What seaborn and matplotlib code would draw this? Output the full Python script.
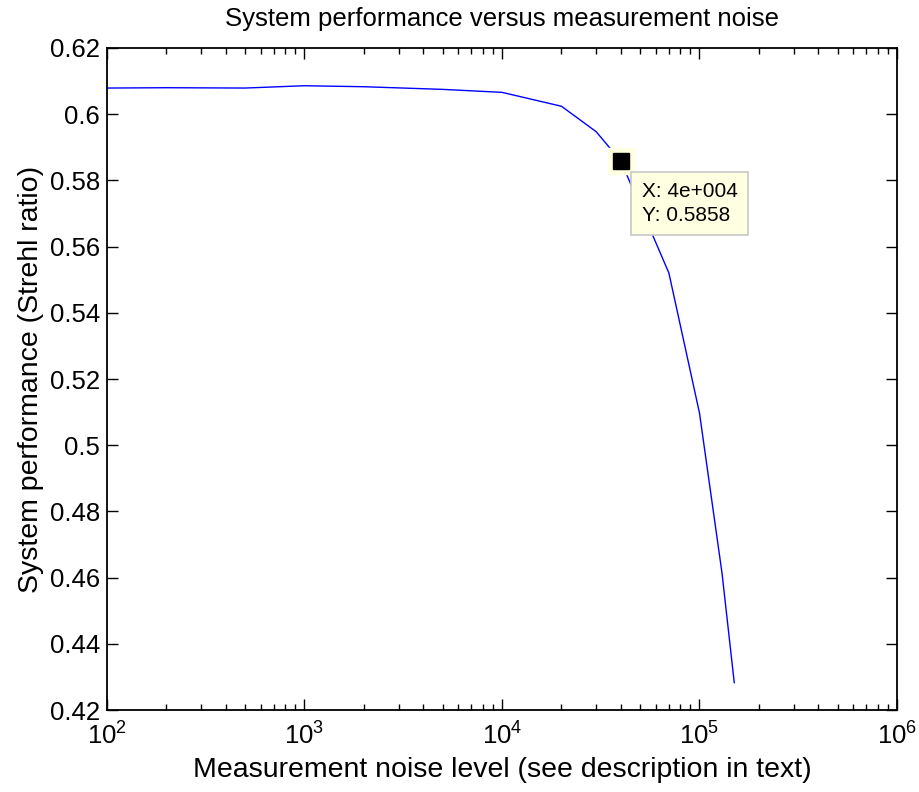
import numpy as np
import pandas as pd
import matplotlib
matplotlib.use("Agg")
import matplotlib.pyplot as plt
import seaborn as sns

noise = [1e2, 2e2, 5e2, 1e3, 2e3, 5e3, 1e4, 2e4, 3e4, 4e4, 7e4, 1e5, 1.3e5, 1.5e5]
strehl = [0.6079, 0.6080, 0.6079, 0.6086, 0.6083, 0.6075, 0.6066, 0.6024, 0.5947,
          0.5858, 0.5520, 0.5097, 0.4614, 0.4282]

cursor_x = 4e4
cursor_y = 0.5858

df = pd.DataFrame({'noise': noise, 'strehl': strehl})

sns.set_style("ticks")
plt.rcParams['font.family'] = ['Liberation Sans', 'DejaVu Sans']
plt.rcParams['text.color'] = 'black'
plt.rcParams['axes.labelcolor'] = 'black'

fig = plt.figure(figsize=(9.2, 7.92), dpi=100)
ax = fig.add_axes([0.1163, 0.1035, 0.8587, 0.8359])

sns.lineplot(data=df, x='noise', y='strehl', color='#0000ff', linewidth=1.0, ax=ax)
ax.set_xscale('log')
ax.set_xlim(1e2, 1e6)
ax.set_ylim(0.42, 0.62)
ax.set_yticks(np.arange(0.42, 0.6201, 0.02))
ax.set_yticklabels(['0.42', '0.44', '0.46', '0.48', '0.5', '0.52', '0.54', '0.56', '0.58', '0.6', '0.62'])

for s in ax.spines.values():
    s.set_visible(True)
    s.set_linewidth(1.3)
    s.set_color('black')
ax.tick_params(which='both', direction='in', top=True, right=True, labelsize=18.5,
               colors='black', labelcolor='black', width=1.0)
ax.tick_params(which='major', length=8, pad=5)
ax.tick_params(which='minor', length=4)
ax.tick_params(axis='x', pad=9)

ax.set_xlabel('Measurement noise level (see description in text)', fontsize=20.5, labelpad=5, color='black')
ax.set_ylabel('System performance (Strehl ratio)', fontsize=20.5, labelpad=4, color='black')
ax.set_title('System performance versus measurement noise', fontsize=18.5, pad=16, color='black')

# data cursor marker
ax.plot(cursor_x, cursor_y, marker='s', markersize=19, color='#ffffe1', markeredgecolor='#ffffe1', zorder=4)
ax.plot(cursor_x, cursor_y, marker='s', markersize=11, color='black', zorder=5)
ax.annotate('X: 4e+004\nY: 0.5858', xy=(cursor_x, cursor_y), xytext=(15, -15),
            textcoords='offset points', ha='left', va='top', fontsize=15, linespacing=1.3,
            color='black',
            bbox=dict(boxstyle='square,pad=0.5', fc='#ffffe1', ec='#c8c8c8', lw=1.2), zorder=6)

fig.savefig('out.png', dpi=100)
